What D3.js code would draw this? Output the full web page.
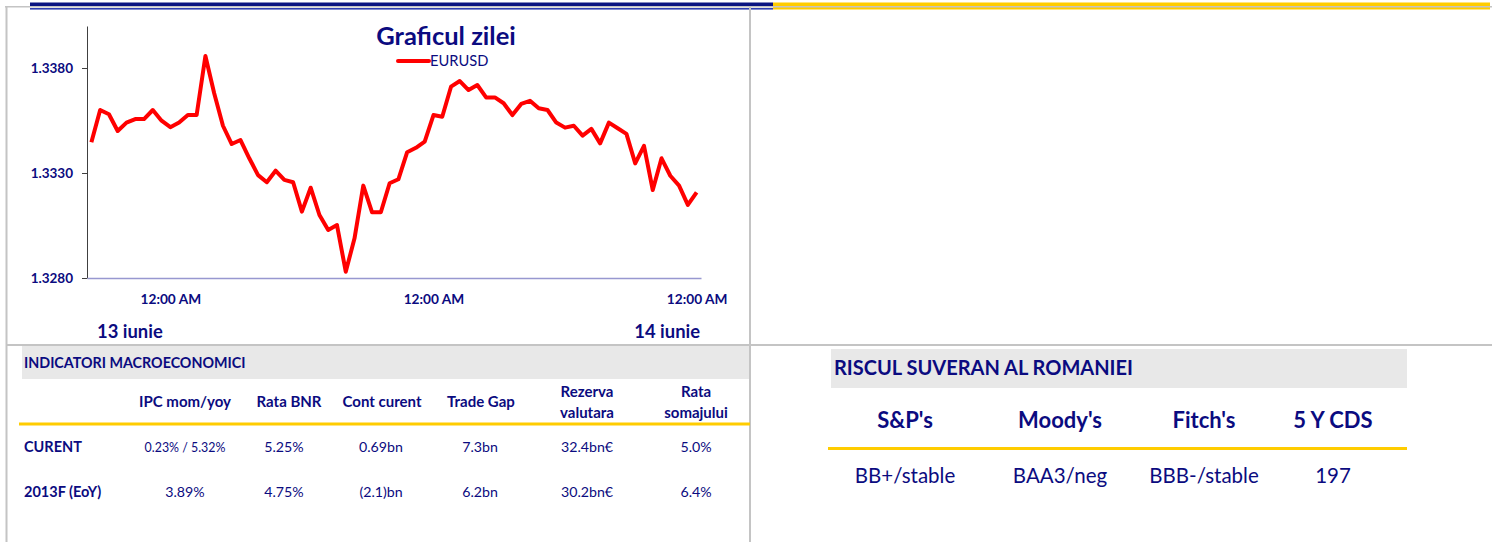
<!DOCTYPE html>
<html>
<head>
<meta charset="utf-8">
<script src="https://cdn.jsdelivr.net/npm/d3@7"></script>
<style>
body { margin: 0; background: #fff; }
svg { display: block; font-family: Lato, "Noto Sans", sans-serif; }
</style>
</head>
<body>
<svg></svg>
<script>
// EURUSD, 13-14 iunie
const eurusd = [
	1.33446, 1.33600, 1.33580, 1.33500, 1.33540, 1.33557, 1.33557, 1.33600, 1.33549, 1.33518,
	1.33540, 1.33576, 1.33576, 1.33857, 1.33680, 1.33525, 1.33438, 1.33457, 1.33370, 1.33290,
	1.33256, 1.33311, 1.33267, 1.33256, 1.33116, 1.33230, 1.33100, 1.33029, 1.33052, 1.32830,
	1.32989, 1.33240, 1.33113, 1.33113, 1.33251, 1.33270, 1.33399, 1.33420, 1.33449, 1.33576,
	1.33568, 1.33711, 1.33738, 1.33695, 1.33719, 1.33660, 1.33660, 1.33632, 1.33576, 1.33629,
	1.33644, 1.33608, 1.33600, 1.33540, 1.33516, 1.33525, 1.33478, 1.33510, 1.33441, 1.33540,
	1.33513, 1.33486, 1.33346, 1.33429, 1.33219, 1.33370, 1.33287, 1.33240, 1.33148, 1.33208
];
const yTicks = [1.3280, 1.3330, 1.3380];
const yDomain = [1.3280, 1.3400];
const xTickIdx = [9, 39, 69];
const xTickLabels = ["12:00 AM", "12:00 AM", "12:00 AM"];
const dayLabels = ["13 iunie", "14 iunie"];

const macroTitle = "INDICATORI MACROECONOMICI";
const macroHeaders = [["IPC mom/yoy"], ["Rata BNR"], ["Cont curent"], ["Trade Gap"], ["Rezerva", "valutara"], ["Rata", "somajului"]];
const macroRowNames = ["CURENT", "2013F (EoY)"];
const macroRows = [
	["0.23% / 5.32%", "5.25%", "0.69bn", "7.3bn", "32.4bn€", "5.0%"],
	["3.89%", "4.75%", "(2.1)bn", "6.2bn", "30.2bn€", "6.4%"]
];

const riskTitle = "RISCUL SUVERAN AL ROMANIEI";
const riskHeaders = ["S&P's", "Moody's", "Fitch's", "5 Y CDS"];
const riskValues = ["BB+/stable", "BAA3/neg", "BBB-/stable", "197"];

const navy = "#0b0b80";
const gold = "#ffcc00";
const frame = "#c4c4c4";

var svg = d3.select("svg").attr("width", 1492).attr("height", 542);

// top bars
svg.append("rect").attr("x", 773).attr("y", 2.5).attr("width", 717).attr("height", 7).style("fill", gold);
svg.append("rect").attr("x", 30).attr("y", 2.5).attr("width", 743).attr("height", 4).style("fill", "#0a1480");
svg.append("rect").attr("x", 30).attr("y", 8).attr("width", 743).attr("height", 1.6).style("fill", "#3040b0");

// frame lines
svg.append("line").attr("x1", 5).attr("x2", 1492).attr("y1", 6.8).attr("y2", 6.8).style("stroke", frame).style("stroke-width", 1.5);
svg.append("line").attr("x1", 6.5).attr("x2", 6.5).attr("y1", 6).attr("y2", 542).style("stroke", frame).style("stroke-width", 2);
svg.append("line").attr("x1", 750).attr("x2", 750).attr("y1", 6).attr("y2", 542).style("stroke", frame).style("stroke-width", 2);
svg.append("line").attr("x1", 6).attr("x2", 1492).attr("y1", 345).attr("y2", 345).style("stroke", frame).style("stroke-width", 2);

// chart
var x = d3.scalePoint().domain(d3.range(eurusd.length)).range([87, 701]).padding(0.5);
var y = d3.scaleLinear().domain(yDomain).range([278, 26]);

var yAxis = svg.append("g").attr("transform", "translate(87,0)")
	.call(d3.axisLeft(y).tickValues(yTicks).tickSize(5).tickSizeOuter(0).tickPadding(9).tickFormat(d3.format(".4f")));
yAxis.select(".domain").style("stroke", "#404040");
yAxis.selectAll(".tick line").style("stroke", "#404040");
yAxis.selectAll("text").style("fill", navy).style("font-size", "13.5px").style("font-weight", "bold").style("font-family", "Lato");

var xAxis = svg.append("g").attr("transform", "translate(0,278)")
	.call(d3.axisBottom(x).tickValues(xTickIdx).tickSize(0).tickSizeOuter(0).tickPadding(16)
		.tickFormat((d, i) => xTickLabels[i]));
xAxis.select(".domain").style("stroke", "#9898d0").style("stroke-width", 1.5);
xAxis.selectAll("text").style("fill", navy).style("font-size", "13.7px").style("font-weight", "bold").style("font-family", "Lato");

svg.append("path").datum(eurusd)
	.attr("d", d3.line().x((d, i) => x(i)).y(d => y(d)))
	.style("fill", "none").style("stroke", "#ff0000").style("stroke-width", 4).style("stroke-linejoin", "round");

svg.append("text").attr("x", 446).attr("y", 45).attr("text-anchor", "middle")
	.style("font-size", "25.5px").style("font-weight", "bold").style("fill", navy).text("Graficul zilei");
svg.append("line").attr("x1", 398).attr("x2", 429).attr("y1", 61).attr("y2", 61)
	.style("stroke", "#ff0000").style("stroke-width", 4).style("stroke-linecap", "round");
svg.append("text").attr("x", 430).attr("y", 66).style("font-size", "14.7px").style("fill", navy).text("EURUSD");

svg.append("text").attr("x", 97).attr("y", 338).style("font-size", "18.4px").style("font-weight", "bold").style("fill", navy).text(dayLabels[0]);
svg.append("text").attr("x", 700).attr("y", 338).attr("text-anchor", "end").style("font-size", "18.4px").style("font-weight", "bold").style("fill", navy).text(dayLabels[1]);

// macro table
var macroX = [185, 289, 382, 481, 587, 696];
svg.append("rect").attr("x", 22).attr("y", 346).attr("width", 727).attr("height", 33).style("fill", "#e8e8e8");
svg.append("text").attr("x", 24).attr("y", 368).style("font-size", "14.3px").style("font-weight", "bold").style("fill", navy).text(macroTitle);

macroHeaders.forEach(function(h, i) {
	var t = svg.append("text").attr("text-anchor", "middle").style("font-size", "15px").style("font-weight", "bold").style("fill", navy);
	if (h.length == 1) {
		t.append("tspan").attr("x", macroX[i]).attr("y", 407).text(h[0]);
	} else {
		t.append("tspan").attr("x", macroX[i]).attr("y", 397).text(h[0]);
		t.append("tspan").attr("x", macroX[i]).attr("y", 418).text(h[1]);
	}
});
svg.append("line").attr("x1", 19).attr("x2", 750).attr("y1", 424).attr("y2", 424).style("stroke", gold).style("stroke-width", 3);

var rowY = [452, 497];
var valX = [185, 284, 381, 480, 587, 696];
macroRowNames.forEach(function(r, j) {
	svg.append("text").attr("x", 24).attr("y", rowY[j]).style("font-size", "14.5px").style("font-weight", "bold").style("fill", navy).text(r);
	macroRows[j].forEach(function(v, i) {
		svg.append("text").attr("x", valX[i]).attr("y", rowY[j]).attr("text-anchor", "middle")
			.style("font-size", (j == 0 && i == 0) ? "12.4px" : "14.2px").style("fill", navy).text(v);
	});
});

// sovereign risk table
var riskX = [905, 1060, 1204, 1333];
svg.append("rect").attr("x", 831).attr("y", 349).attr("width", 576).attr("height", 39).style("fill", "#e8e8e8");
svg.append("text").attr("x", 834).attr("y", 375).style("font-size", "20px").style("font-weight", "bold").style("fill", navy).text(riskTitle);
riskHeaders.forEach(function(h, i) {
	svg.append("text").attr("x", riskX[i]).attr("y", 428).attr("text-anchor", "middle")
		.style("font-size", "22px").style("font-weight", "bold").style("fill", navy).text(h);
});
svg.append("line").attr("x1", 828).attr("x2", 1407).attr("y1", 448.5).attr("y2", 448.5).style("stroke", gold).style("stroke-width", 3);
riskValues.forEach(function(v, i) {
	svg.append("text").attr("x", riskX[i]).attr("y", 483).attr("text-anchor", "middle")
		.style("font-size", "20.5px").style("fill", navy).text(v);
});
</script>
</body>
</html>
